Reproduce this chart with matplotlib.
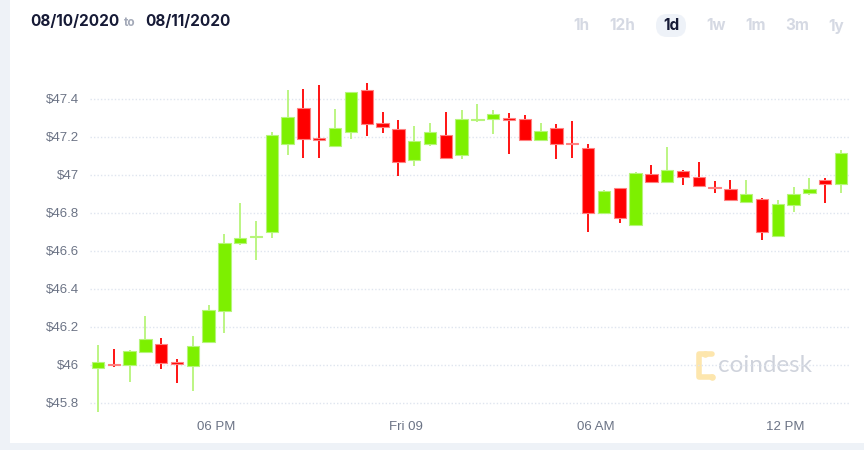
import matplotlib
matplotlib.use("Agg")
import matplotlib.pyplot as plt
from matplotlib.patches import FancyBboxPatch, Rectangle
import numpy as np

# ---- data (30-minute candles, 08/10 14:00 -> 08/11 14:00) ----
opens = [45.982, 46.004, 46.000, 46.065, 46.109, 46.010, 45.991, 46.121, 46.284, 46.639,
         46.672, 46.698, 47.163, 47.351, 47.195, 47.151, 47.225, 47.446, 47.270, 47.240,
         47.075, 47.163, 47.210, 47.102, 47.286, 47.293, 47.300, 47.291, 47.181, 47.247,
         47.168, 47.142, 46.796, 46.930, 46.737, 47.004, 46.963, 47.021, 46.988, 46.935,
         46.926, 46.858, 46.870, 46.679, 46.840, 46.904, 46.970, 46.949]
closes = [46.014, 45.998, 46.074, 46.135, 46.009, 46.005, 46.096, 46.288, 46.640, 46.667,
          46.677, 47.209, 47.305, 47.186, 47.184, 47.244, 47.437, 47.268, 47.253, 47.067,
          47.177, 47.226, 47.089, 47.296, 47.293, 47.318, 47.286, 47.181, 47.232, 47.161,
          47.160, 46.800, 46.916, 46.770, 47.011, 46.960, 47.025, 46.989, 46.942, 46.932,
          46.868, 46.898, 46.698, 46.846, 46.898, 46.925, 46.953, 47.114]
highs = [46.104, 46.082, 46.077, 46.258, 46.139, 46.028, 46.151, 46.312, 46.689, 46.851,
         46.756, 47.226, 47.446, 47.453, 47.474, 47.344, 47.437, 47.484, 47.328, 47.289,
         47.254, 47.274, 47.332, 47.342, 47.374, 47.342, 47.325, 47.316, 47.270, 47.268,
         47.281, 47.163, 46.921, 46.932, 47.013, 47.051, 47.146, 47.024, 47.067, 46.967,
         46.972, 46.972, 46.877, 46.867, 46.933, 46.984, 46.984, 47.128]
lows = [45.749, 45.990, 45.907, 46.065, 45.979, 45.905, 45.863, 46.121, 46.168, 46.630,
        46.553, 46.667, 47.105, 47.088, 47.088, 47.151, 47.190, 47.202, 47.221, 46.991,
        47.044, 47.149, 47.084, 47.084, 47.280, 47.212, 47.110, 47.175, 47.181, 47.082,
        47.088, 46.696, 46.796, 46.744, 46.733, 46.958, 46.963, 46.947, 46.937, 46.905,
        46.866, 46.853, 46.656, 46.679, 46.804, 46.893, 46.853, 46.905]

x_tick_pos = [7.5, 19.5, 31.5, 43.5]
x_tick_labels = ["06 PM", "Fri 09", "06 AM", "12 PM"]
y_ticks = [45.8, 46.0, 46.2, 46.4, 46.6, 46.8, 47.0, 47.2, 47.4]
y_tick_labels = ["$45.8", "$46", "$46.2", "$46.4", "$46.6", "$46.8", "$47", "$47.2", "$47.4"]
date_from = "08/10/2020"
date_to = "08/11/2020"
ranges = ["1h", "12h", "1d", "1w", "1m", "3m", "1y"]
active_range = "1d"

GREEN = "#7df000"
RED = "#ff0000"
GREEN_EDGE = "#b6f57a"
RED_EDGE = "#ff8080"

W, H = 864, 450
fig = plt.figure(figsize=(W / 100, H / 100), dpi=100)
fig.patch.set_facecolor("#eef2f7")

# background / decoration layer in pixel coordinates
bg = fig.add_axes([0, 0, 1, 1], zorder=-5)
bg.set_xlim(0, W)
bg.set_ylim(H, 0)
bg.axis("off")
bg.add_patch(Rectangle((10, 0), W - 10, 443, facecolor="white", edgecolor="none"))
bg.add_patch(FancyBboxPatch((656, 14), 30, 23, boxstyle="round,pad=0,rounding_size=11",
                            facecolor="#eef2f8", edgecolor="none"))
yel = "#fde6ad"
bg.plot([712, 699, 699, 712], [354, 354, 377, 377], color=yel, lw=4,
        solid_capstyle="round", solid_joinstyle="round")
bg.scatter([705, 712], [354, 377], s=14, color=yel, zorder=3)
bg.text(718, 366, "coindesk", fontsize=17.5, color="#cfd3dc",
        family=["Lato", "DejaVu Sans"], ha="left", va="center")

ax_l, ax_r, ax_t, ax_b = 90, 849, 60, 415
ax = fig.add_axes([ax_l / W, 1 - ax_b / H, (ax_r - ax_l) / W, (ax_b - ax_t) / H], zorder=2)
ax.set_facecolor("none")
ax.set_xlim(-0.5, 47.5)
ax.set_ylim(45.735, 47.604)
for s in ax.spines.values():
    s.set_visible(False)

for yv in y_ticks:
    ax.axhline(yv, color="#dfe5ef", lw=1.0, ls=(0, (1, 1.5)), zorder=1)

fontlist = ["Liberation Sans Narrow", "Liberation Sans", "DejaVu Sans"]
ax.set_yticks(y_ticks)
ax.set_yticklabels(y_tick_labels, family=fontlist, fontsize=9.5, color="#6b7385")
ax.set_xticks(x_tick_pos)
ax.set_xticklabels(x_tick_labels, family=fontlist, fontsize=9.5, color="#6b7385")
ax.tick_params(axis="y", length=0, pad=8)
ax.tick_params(axis="x", length=0, pad=4)

xs = np.arange(len(opens))
bw = 0.78
for i in xs:
    o, c, h, l = opens[i], closes[i], highs[i], lows[i]
    up = c >= o
    col = GREEN if up else RED
    ecol = GREEN_EDGE if up else RED_EDGE
    ax.vlines(i, l, h, color=ecol if up else col, lw=1.3, zorder=2)
    bottom = min(o, c)
    height = max(abs(c - o), 0.008)
    if abs(c - o) < 0.008:
        bottom = (o + c) / 2 - 0.004
    ax.bar(i, height, bottom=bottom, width=bw, color=col, edgecolor=ecol,
           linewidth=0.8, zorder=3)

# header
hdr_font = ["Inter", "DejaVu Sans"]
fig.text(30 / W, 1 - 22 / H, date_from, fontsize=11, fontweight="bold", color="#161a36",
         family=hdr_font, va="center", ha="left")
fig.text(130 / W, 1 - 23 / H, "to", fontsize=8.5, fontweight="bold", color="#a3a9b8",
         family=hdr_font, va="center", ha="center")
fig.text(145 / W, 1 - 22 / H, date_to, fontsize=11, fontweight="bold", color="#161a36",
         family=hdr_font, va="center", ha="left")

btn_x = [581, 622, 671, 716, 756, 797, 836]
for lab, bx in zip(ranges, btn_x):
    colr = "#161a36" if lab == active_range else "#d5d9e3"
    fig.text(bx / W, 1 - 26 / H, lab, fontsize=11, fontweight="bold", color=colr,
             family=hdr_font, ha="center", va="center")

fig.savefig("out.png", dpi=100, facecolor=fig.get_facecolor())
